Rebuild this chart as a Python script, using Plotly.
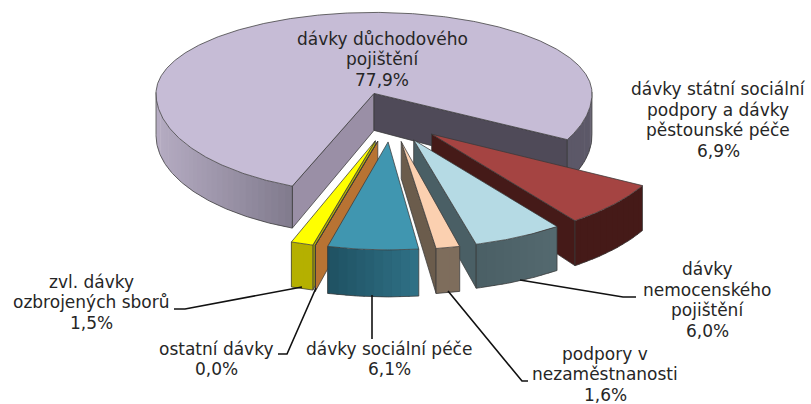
# -*- coding: utf-8 -*-
# exploded 3D pie, plotly has none so the slices are built as filled polygons from the shares
import numpy as np
import plotly.graph_objects as go

labels = ['dávky důchodového<br>pojištění', 'dávky státní sociální<br>podpory a dávky<br>pěstounské péče',
          'dávky<br>nemocenského<br>pojištění', 'podpory v<br>nezaměstnanosti', 'dávky sociální péče',
          'ostatní dávky', 'zvl. dávky<br>ozbrojených sborů']
values = [77.9, 6.9, 6.0, 1.6, 6.1, 0.0, 1.5]
value_text = ['77,9%', '6,9%', '6,0%', '1,6%', '6,1%', '0,0%', '1,5%']

# colours: top, wall left, wall right, cut face
top_col = ['#c6bcd6', '#a54442', '#b5dae4', '#fbd0b0', '#4096b0', '#b87333', '#ffff00']
wall_l = ['#b0a7bd', '#451a18', '#54696f', '#7e6d5c', '#2f7085', '#b87333', '#b5b000']
wall_r = ['#5c5868', '#451a18', '#4a5f65', '#7e6d5c', '#1e4f60', '#b87333', '#b5b000']
cut_col = ['#4f4a58', '#451a18', '#4a5f65', '#6b5c4c', '#2f7085', '#b87333', '#b5b000']
big_start_cut = '#9a8fa6'
# perspective fudges: front slices look bigger, the back of the pie is squashed
rx_scale = [1.0, 1.1, 1.1, 1.1, 1.1, 1.1, 1.1]
ry_scale = [1.0, 1.08, 1.08, 1.08, 1.08, 1.08, 1.08]
trim_start = [1.5, 0, 0, 0, 0, 0, 0]
trim_end = [3.4, 0, 0, 0, 0, 0, 0]
angle_nudge = [0, -2.5, -2.5, -1.5, -0.5, 0, 0]
depth_out = [42, 45, 44, 45, 47, 46, 45]
draw_order = [0, 1, 2, 6, 5, 4, 3]

CX, CY = 392, 117
RX, RY = 218, 100
BACK_SQUASH = 0.81
EXPLODE = 0.25
START = 200.5
DEPTH_IN = 37
OUTLINE = '#3a3a3a'


def to_rgb(c):
    return np.array([int(c[i:i + 2], 16) for i in (1, 3, 5)], dtype=float)


def mix(a, b, t):
    r = to_rgb(a) * (1 - t) + to_rgb(b) * t
    return 'rgb(%d,%d,%d)' % tuple(r)


def poly(fig, xs, ys, fill, line=OUTLINE, width=0.75):
    fig.add_trace(go.Scatter(x=list(xs) + [xs[0]], y=list(ys) + [ys[0]], mode='lines', fill='toself',
                             fillcolor=fill, line=dict(color=line, width=width), hoverinfo='skip',
                             showlegend=False))


def stroke(fig, xs, ys, color=OUTLINE, width=0.75):
    fig.add_trace(go.Scatter(x=list(xs), y=list(ys), mode='lines', line=dict(color=color, width=width),
                             hoverinfo='skip', showlegend=False))


fig = go.Figure()

# start and end angle of each slice, clockwise from the top
spans = []
a = START
for v in values:
    spans.append((a, a + v * 3.6))
    a += v * 3.6

for i in draw_order:
    a0, a1 = spans[i]
    mid = np.radians((a0 + a1) / 2)
    ax = CX + EXPLODE * RX * np.sin(mid)
    ay = CY - EXPLODE * RY * np.cos(mid)
    a0 += trim_start[i] + angle_nudge[i]
    a1 += angle_nudge[i] - trim_end[i]
    rx, ry = RX * rx_scale[i], RY * ry_scale[i]

    th = np.radians(np.linspace(a0, a1, max(int(a1 - a0) * 2, 2)))
    px = ax + rx * np.sin(th)
    py = ay - ry * np.cos(th) * np.where(np.cos(th) > 0, BACK_SQUASH, 1.0)
    dep = depth_out[i]

    # cut faces, only the ones turned to the viewer
    for ang, is_end in ((a0, False), (a1, True)):
        t = np.radians(ang)
        facing = (-np.sin(t) if is_end else np.sin(t)) < 0
        if not facing:
            continue
        ex = px[-1] if is_end else px[0]
        ey = py[-1] if is_end else py[0]
        col = big_start_cut if (i == 0 and not is_end) else cut_col[i]
        poly(fig, [ax, ex, ex, ax], [ay, ey, ey + dep, ay + DEPTH_IN], col)

    # outer wall, strips overlap each other so no seams show
    front = np.where(np.cos(th) < 0.02)[0]
    if i == 0:
        groups = [front[front < len(th) // 2], front[front >= len(th) // 2]]
    else:
        groups = [front]
    for g in groups:
        if len(g) < 2:
            continue
        step = 4
        for j in range(g[0], g[-1], step):
            k = min(j + step + 1, g[-1])
            if i == 0:
                t = min(2 * (px[j] - (CX - RX)) / (2 * RX), 1)
            else:
                t = (j - g[0]) / max(g[-1] - g[0], 1)
            poly(fig, [px[j], px[k], px[k], px[j]],
                 [py[j], py[k], py[k] + dep, py[j] + dep], mix(wall_l[i], wall_r[i], t),
                 line='rgba(0,0,0,0)', width=0)
        stroke(fig, px[g], py[g] + dep)
        for j in (g[0], g[-1]):
            stroke(fig, [px[j], px[j]], [py[j], py[j] + dep])

    poly(fig, [ax] + list(px), [ay] + list(py), top_col[i])

# label centres and leader lines are layout
label_pos = [(382, 59), (718, 120), (707, 300), (605, 374), (389, 359), (216, 359), (91, 302)]
LINE_GAP = 20.5
for i, (x, y) in enumerate(label_pos):
    rows = labels[i].split('<br>') + [value_text[i]]
    for n, row in enumerate(rows):
        fig.add_annotation(x=x, y=y + (n - (len(rows) - 1) / 2) * LINE_GAP, text=row, showarrow=False,
                           xanchor='center', yanchor='middle', align='center',
                           font=dict(family='DejaVu Sans', size=17, color='#262626'))

leaders = [[(174, 309), (185, 309), (302, 287)],
           [(278, 354), (287, 354), (316, 288)],
           [(372, 295), (372, 339)],
           [(448, 291), (522, 381), (528, 381)],
           [(520, 280), (623, 297), (636, 297)]]
for pts in leaders:
    stroke(fig, [p[0] for p in pts], [p[1] for p in pts], color='#111111', width=1.6)

fig.update_xaxes(range=[0, 811], visible=False, fixedrange=True)
fig.update_yaxes(range=[404, 0], visible=False, fixedrange=True)
fig.update_layout(width=811, height=404, margin=dict(l=0, r=0, t=0, b=0),
                  paper_bgcolor='white', plot_bgcolor='white', showlegend=False)

# page margin would push the chart off by 8 px
fig.write_html("out.html", config={'displayModeBar': False}, post_script="document.body.style.margin='0';")
